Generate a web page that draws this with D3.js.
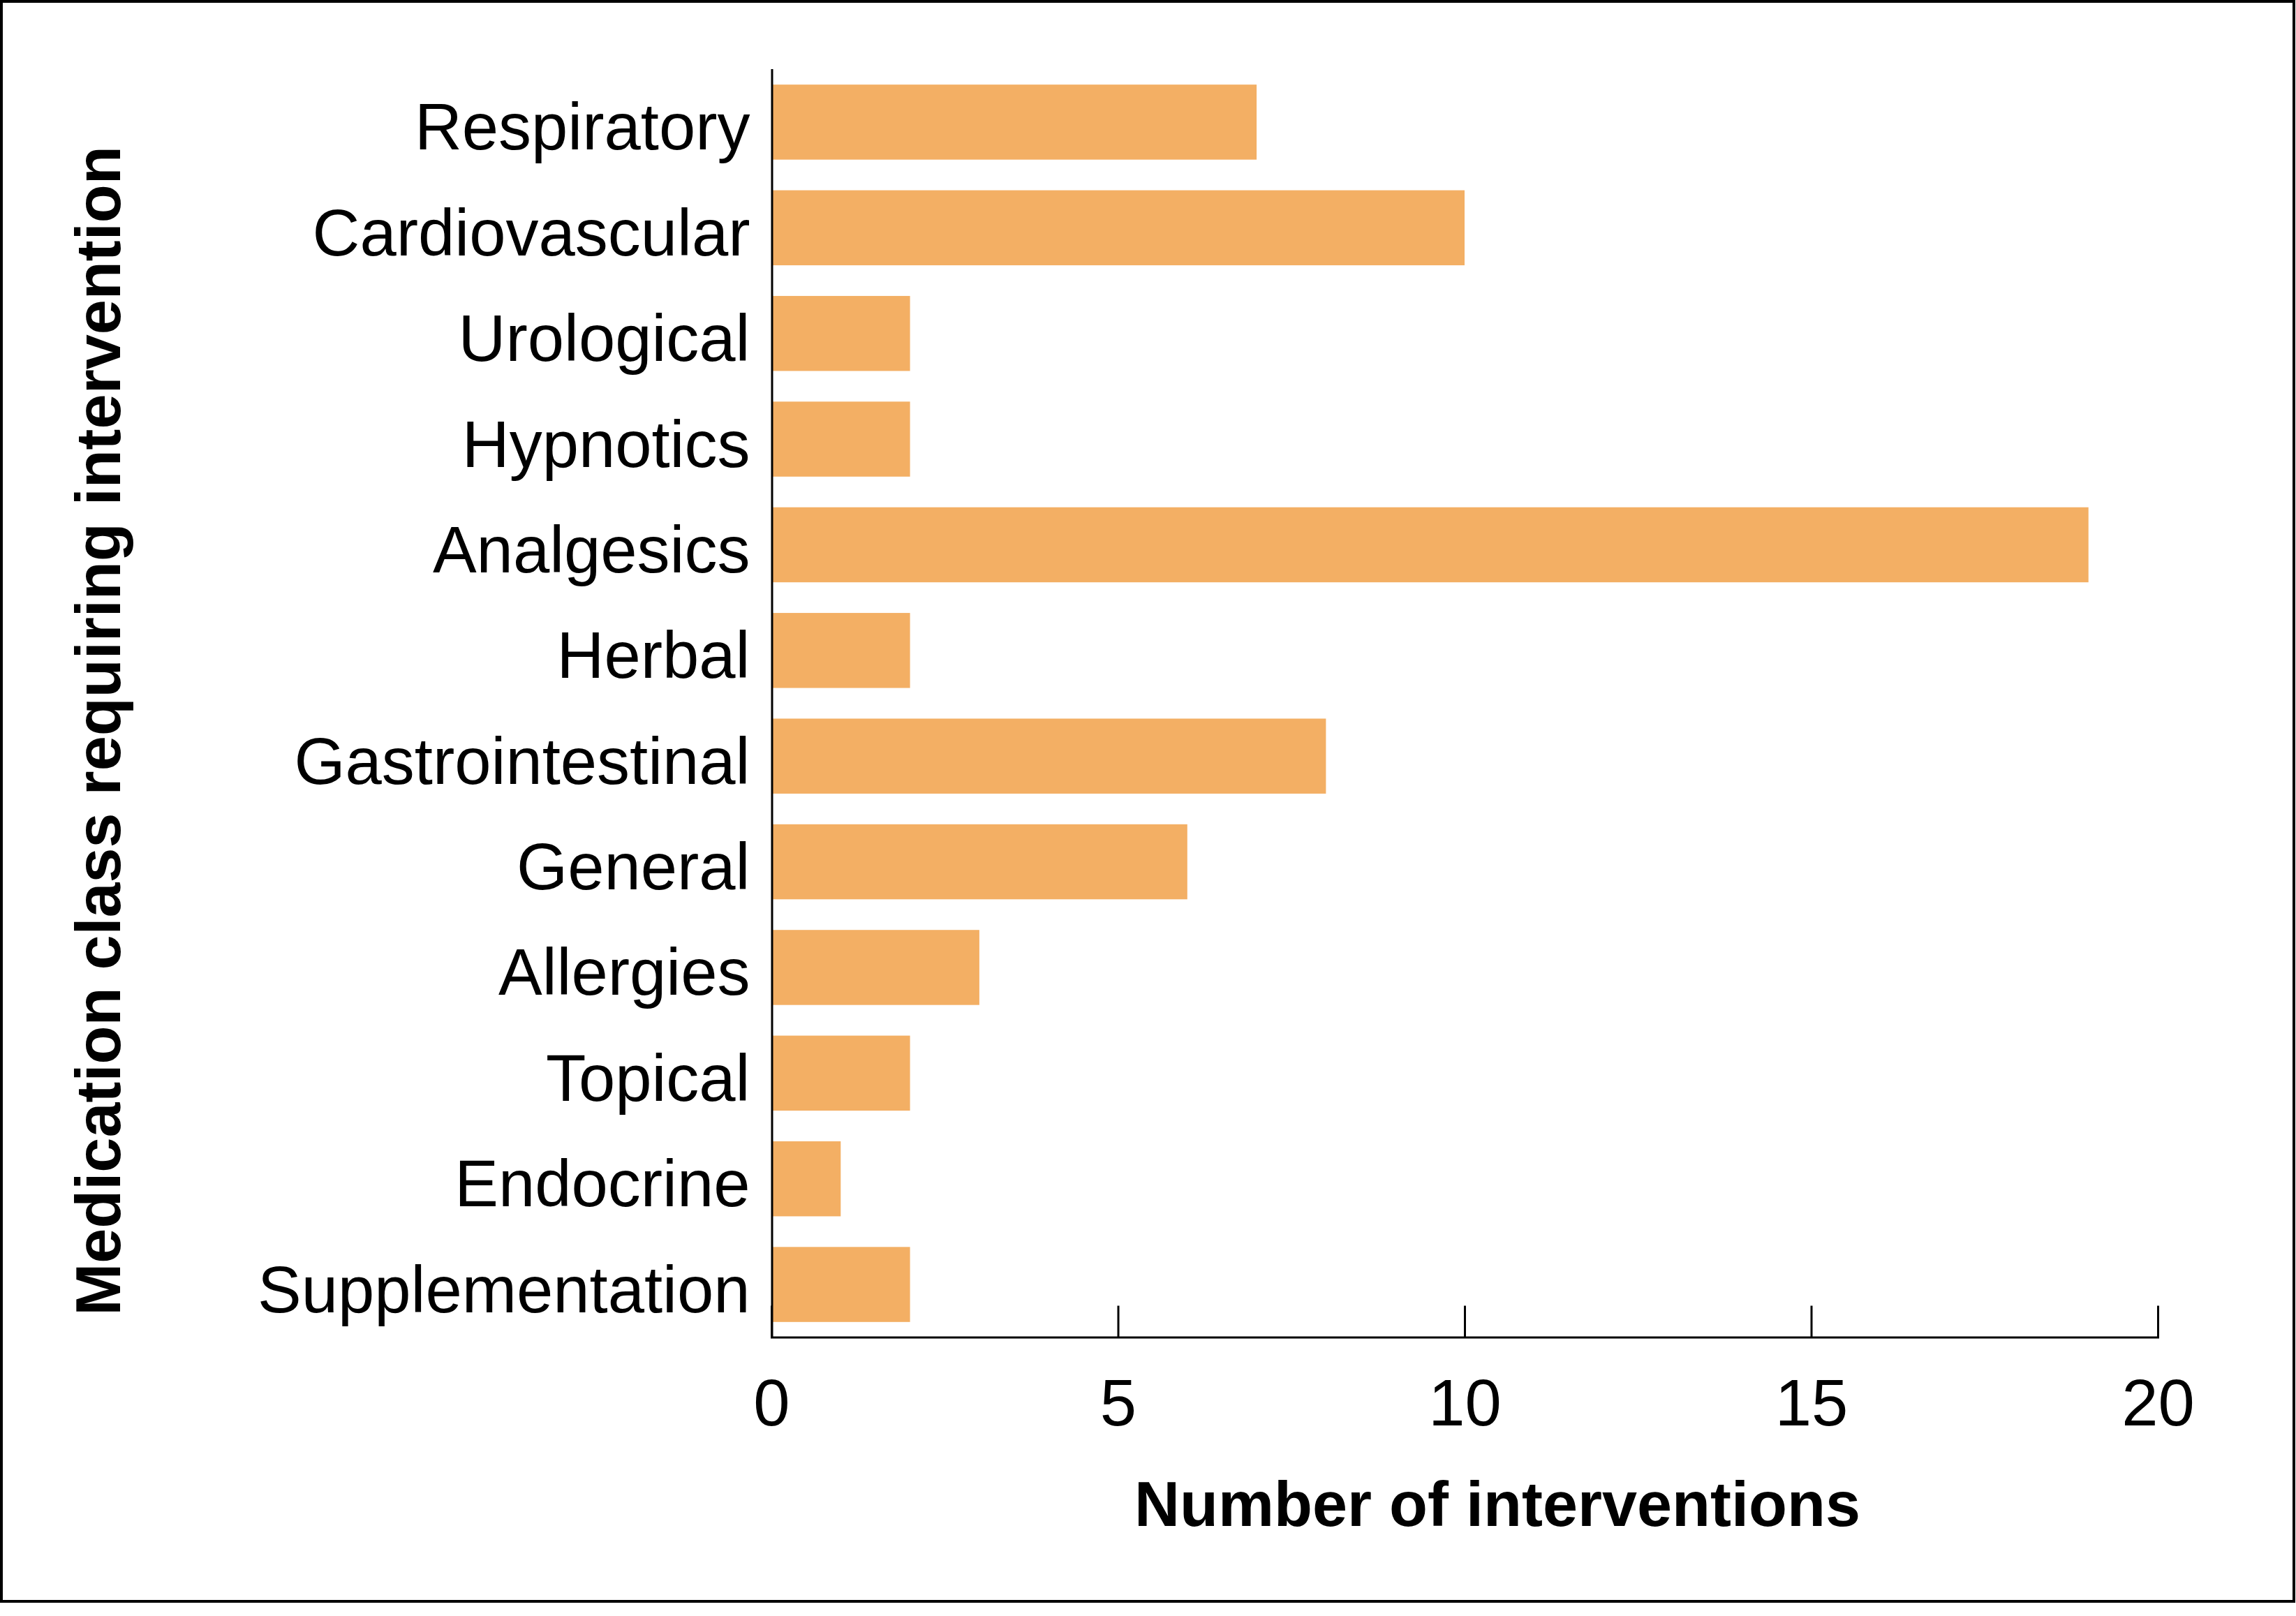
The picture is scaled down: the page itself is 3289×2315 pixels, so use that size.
<!DOCTYPE html>
<html>
<head>
<meta charset="utf-8">
<script src="https://cdn.jsdelivr.net/npm/d3@7"></script>
<style>
  body { margin: 0; background: #fff; }
  svg { display: block; }
</style>
</head>
<body>
<script>

// medication classes, top to bottom
var classes = ["Respiratory", "Cardiovascular", "Urological", "Hypnotics", "Analgesics", "Herbal",
               "Gastrointestinal", "General", "Allergies", "Topical", "Endocrine", "Supplementation"];
var counts = [7, 10, 2, 2, 19, 2, 8, 6, 3, 2, 1, 2];
var xTicks = [0, 5, 10, 15, 20];

function makePlot(){

    const width = 3289;
    const height = 2315;
    const font = "'Liberation Sans', Arial, sans-serif";

    var data = classes.map((c, i) => ({name: c, value: counts[i]}));

    const x = d3.scaleLinear()
        .domain([0, 20])
        .range([1105, 3091]);

    const y = d3.scaleBand()
        .domain(classes)
        .range([100, 1915])
        .paddingInner(0.29)
        .paddingOuter(0.14);

    const svg = d3.create("svg")
        .attr("width", width)
        .attr("height", height)
        .attr("viewBox", [0, 0, width, height]);

    document.body.appendChild(svg.node());

    // outer frame
    svg.append("rect")
        .attr("x", 2).attr("y", 2)
        .attr("width", 3284).attr("height", 2292)
        .attr("fill", "white")
        .attr("stroke", "black")
        .attr("stroke-width", 4);

    // bars
    svg.append("g")
        .selectAll()
        .data(data)
        .join("rect")
        .attr("x", x(0))
        .attr("y", d => y(d.name))
        .attr("width", d => x(d.value) - x(0))
        .attr("height", y.bandwidth())
        .attr("fill", "#f3af64");

    // x axis, ticks pointing up
    svg.append("g")
        .attr("transform", `translate(0,1915.5)`)
        .call(d3.axisBottom(x).tickValues(xTicks).tickSizeInner(-45).tickSizeOuter(0).tickPadding(60))
        .call(g => g.select(".domain").attr("stroke-width", 3).attr("stroke-linecap", "square"))
        .call(g => g.selectAll(".tick line").attr("stroke-width", 3))
        .call(g => g.selectAll(".tick text")
            .attr("font-family", font)
            .attr("font-size", 94)
            .attr("fill", "black"));

    // y axis
    svg.append("g")
        .attr("transform", `translate(1105.5,0)`)
        .call(d3.axisLeft(y).tickSize(0).tickPadding(31))
        .call(g => g.select(".domain").attr("stroke-width", 3).attr("stroke-linecap", "square"))
        .call(g => g.selectAll(".tick text")
            .attr("font-family", font)
            .attr("font-size", 94)
            .attr("dy", "0.42em")
            .attr("fill", "black"));

    // axis titles
    svg.append("text")
        .attr("x", 2145)
        .attr("y", 2186)
        .attr("text-anchor", "middle")
        .attr("font-family", font)
        .attr("font-weight", "bold")
        .attr("font-size", 90)
        .text("Number of interventions");

    svg.append("text")
        .attr("transform", "translate(172,1047) rotate(-90)")
        .attr("text-anchor", "middle")
        .attr("font-family", font)
        .attr("font-weight", "bold")
        .attr("font-size", 90)
        .text("Medication class requiring intervention");

    return svg.node();
}

makePlot();
</script>
</body>
</html>
